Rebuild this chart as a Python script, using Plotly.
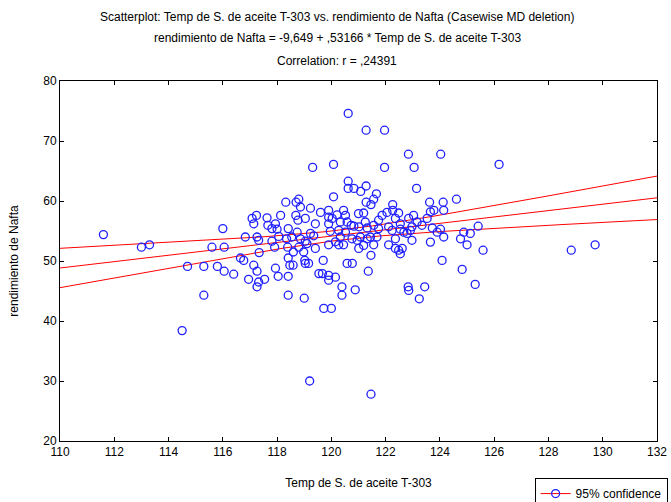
import numpy as np
import plotly.graph_objects as go

# Temp de S. de aceite T-303 (x) and rendimiento de Nafta (y)
temp = [
    111.6, 113.0, 113.3, 114.5, 114.7, 115.3, 115.3, 115.6, 115.8, 116.0, 116.05, 116.05, 116.4,
    116.65, 116.77, 116.83, 116.95, 117.08, 117.14, 117.14, 117.24, 117.26, 117.32, 117.34, 117.26,
    117.26, 117.32, 117.54, 117.63, 117.66, 117.81, 117.81, 117.91, 117.94, 117.94, 118.04, 118.0,
    118.13, 118.06,
    118.32, 118.41, 118.35, 118.39, 118.41, 118.47, 118.59, 118.41, 118.41, 118.54, 118.6, 118.69,
    118.7, 118.8, 118.77, 118.74, 118.86, 118.86, 118.8, 118.98, 119.02, 119.04, 119.16, 119.04,
    119.04, 119.1, 119.0, 119.2, 119.23, 119.23, 119.35, 119.41, 119.41, 119.31, 119.6, 119.54,
    119.67, 119.7, 119.72,
    119.9, 119.9, 120.03, 119.9, 119.96, 119.9, 119.9, 119.9, 120.0, 120.08, 120.08, 120.21, 120.15,
    120.15, 120.27, 120.33, 120.33, 120.27, 120.39, 120.39, 120.45, 120.52, 120.58, 120.45, 120.52,
    120.58, 120.77, 120.62, 120.62, 120.62, 120.83, 121.08, 121.28, 120.73, 120.83, 121.02, 120.76,
    120.95, 121.07, 121.01, 121.0, 120.88,
    121.19, 121.19, 121.25, 121.32, 121.32, 121.28, 121.28, 121.36, 121.44, 121.46, 121.46, 121.46,
    121.56, 121.66, 121.56, 121.56, 121.68, 121.74, 121.74, 121.87, 121.96, 121.96, 122.05, 122.11,
    122.11, 122.24, 122.26, 122.26, 122.36, 122.36, 122.36, 122.48, 122.48, 122.54, 122.54, 122.61,
    122.54, 122.67, 122.79, 122.85, 122.84, 122.83, 122.85, 122.91, 122.97, 122.97, 123.03, 123.05,
    123.14, 123.16, 123.24, 123.34, 123.44, 123.53, 123.62, 123.65, 123.65, 123.72, 123.78, 123.9,
    124.02, 124.03, 124.08, 124.12, 124.14, 124.14, 124.61, 124.76, 124.88, 124.82, 125.0, 125.12,
    125.3, 125.41, 125.59, 126.18, 128.84, 129.72,
]
nafta = [
    54.4, 52.3, 52.7, 38.4, 49.1, 44.3, 49.1, 52.3, 49.1, 55.4, 52.3, 48.3, 47.8,
    50.5, 50.1, 54.0, 46.95, 57.1, 56.2, 49.3, 57.6, 54.0, 53.45, 51.4, 48.3,
    45.7, 46.5, 46.95, 57.2, 55.95, 55.4, 53.3, 52.3, 56.2, 48.8, 47.45, 55.3,
    57.6, 54.1,
    59.8, 55.4, 53.7, 52.3, 50.5, 49.3, 49.3, 47.45, 44.3, 54.0, 51.5, 57.6,
    59.8, 60.3, 56.8, 54.8, 59.0, 53.7, 52.3, 51.5, 50.1, 49.6, 49.6, 57.1,
    53.3, 52.9, 43.8, 30.0, 58.8, 54.6, 54.2, 56.2, 52.1, 65.6, 58.1, 47.9,
    47.9, 50.1, 42.1,
    58.45, 57.3, 57.1, 56.2, 54.95, 52.7, 47.6, 46.8, 42.1, 66.1, 60.7, 57.7, 53.2,
    47.3, 55.1, 56.5, 54.0, 52.7, 45.7, 44.3, 58.45, 57.6, 56.5, 52.7, 54.8,
    49.6, 49.6, 74.6, 63.3, 62.1, 62.1, 61.6, 62.5, 55.95, 55.8, 55.7, 53.7,
    53.45, 54.0, 52.1, 57.9, 45.2,
    58.0, 52.6, 56.5, 55.5, 53.7, 59.8, 71.8, 48.3, 54.0, 59.4, 50.95, 27.8,
    60.3, 61.2, 55.95, 52.7, 54.0, 56.8, 55.4, 57.6, 71.8, 65.6, 58.1, 55.7,
    52.7, 55.1, 59.4, 58.45, 57.1, 53.7, 52.1, 58.0, 51.8, 56.2, 55.3, 52.1,
    51.2, 54.8, 54.6, 57.1, 67.8, 45.7, 45.1, 55.1, 55.7, 53.45, 57.6, 65.6,
    62.1, 56.5, 43.7, 55.95, 45.7, 57.1, 59.8, 58.2, 53.15, 55.5, 58.45, 54.8,
    55.3, 67.8, 50.1, 59.8, 58.45, 54.0, 60.3, 53.7, 54.8, 48.6, 52.7, 54.6,
    46.1, 55.8, 51.8, 66.1, 51.8, 52.7,
]

# Regression reported in the chart subtitle
intercept = -9.649
slope = 0.53166

x_ticks = [110, 112, 114, 116, 118, 120, 122, 124, 126, 128, 130, 132]
y_ticks = [20, 30, 40, 50, 60, 70, 80]

title_lines = [
    "Scatterplot: Temp de S. de aceite T-303 vs. rendimiento de Nafta (Casewise MD deletion)",
    "rendimiento de Nafta = -9,649 + ,53166 * Temp de S. de aceite T-303",
    "Correlation: r = ,24391",
]

xa = np.array(temp)
ya = np.array(nafta)
n = len(xa)
xm = xa.mean()
sxx = ((xa - xm) ** 2).sum()
resid = ya - (intercept + slope * xa)
s = np.sqrt((resid ** 2).sum() / (n - 2))
t = 1.97

xg = np.linspace(x_ticks[0], x_ticks[-1], 200)
yfit = intercept + slope * xg
half = t * s * np.sqrt(1.0 / n + (xg - xm) ** 2 / sxx)

fig = go.Figure()
red = "#ff0000"
for yy in (yfit, yfit + half, yfit - half):
    fig.add_trace(go.Scatter(x=xg, y=yy, mode="lines", line=dict(color=red, width=1),
                             showlegend=False, hoverinfo="skip"))
fig.add_trace(go.Scatter(x=temp, y=nafta, mode="markers",
                         marker=dict(symbol="circle-open", size=8, color="#1f1fff",
                                     line=dict(width=1.3)),
                         showlegend=False))
fig.add_trace(go.Scatter(x=[None], y=[None], mode="lines+markers", name="95% confidence",
                         line=dict(color=red, width=1),
                         marker=dict(symbol="circle-open", size=8, color="#1f1fff",
                                     line=dict(width=1.3))))

font = "Liberation Sans, Arial, sans-serif"
for i, txt in enumerate(title_lines):
    fig.add_annotation(text=txt, xref="paper", yref="paper", x=0.464, y=1,
                       yshift=[64, 43, 20][i], yanchor="middle", xanchor="center",
                       showarrow=False, font=dict(size=12, color="black", family=font))

axis_common = dict(showgrid=False, zeroline=False, showline=True, linecolor="black", linewidth=1,
                   mirror="ticks", ticks="inside", ticklen=4, tickcolor="black",
                   tickfont=dict(size=12, color="black", family=font))
fig.update_xaxes(range=[110, 132], tickvals=x_ticks,
                 title=dict(text="Temp de S. de aceite T-303", font=dict(size=12, color="black", family=font), standoff=20),
                 **axis_common)
fig.update_yaxes(range=[20, 80], tickvals=y_ticks,
                 title=dict(text="rendimiento de Nafta", font=dict(size=12, color="black", family=font), standoff=22),
                 **axis_common)

fig.update_layout(
    width=671, height=502,
    margin=dict(l=60, r=14, t=81, b=61, autoexpand=False),
    paper_bgcolor="white", plot_bgcolor="white",
    font=dict(family=font, size=12, color="black"),
    showlegend=True,
    legend=dict(x=0.795, y=-0.103, xanchor="left", yanchor="top", bordercolor="black", borderwidth=1,
                bgcolor="white", font=dict(size=12, color="black", family=font),
                itemwidth=30, tracegroupgap=0),
)

# remove the default 8 px page margin so the figure fills the window exactly
fig.write_html("out.html", config={"displayModeBar": False},
               post_script="document.body.style.margin='0';document.body.style.overflow='hidden';")
